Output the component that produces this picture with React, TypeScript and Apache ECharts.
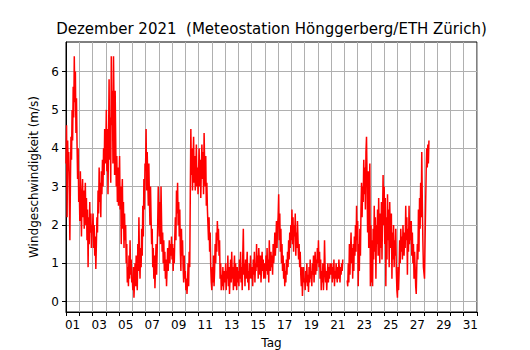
import React, { useEffect, useRef } from "react";
import * as echarts from "echarts";

// Tick labels (days of December)
const dayLabels: string[] = Array.from({ length: 31 }, (_, i) => String(i + 1).padStart(2, "0"));
const yTicks: number[] = [0, 1, 2, 3, 4, 5, 6];

// Hourly wind speed (m/s), one array per day
const day01 = [3.6, 4.6, 2.2, 4.2, 3.4, 3.9, 2.8, 1.6, 3.1, 4.3, 3.7, 5.0, 4.2, 5.6, 4.8, 6.4, 5.2, 6.0, 4.4, 5.3, 4.1, 3.2, 4.0, 2.6];
const day02 = [3.0, 2.1, 3.4, 2.5, 1.7, 2.8, 3.2, 2.2, 2.9, 1.9, 2.6, 3.1, 2.0, 2.7, 1.6, 2.4, 0.9, 2.2, 1.5, 2.6, 1.8, 2.3, 1.4, 2.0];
const day03 = [1.9, 2.3, 1.4, 2.0, 1.2, 1.7, 0.85, 1.5, 2.2, 1.8, 2.9, 2.3, 3.5, 2.6, 3.1, 2.2, 3.4, 2.8, 3.7, 3.0, 4.0, 3.3, 4.5, 3.6];
const day04 = [3.9, 5.0, 3.4, 4.5, 2.8, 4.1, 5.8, 3.7, 4.8, 3.1, 6.4, 4.6, 5.5, 3.6, 6.4, 5.0, 3.3, 5.5, 4.2, 3.0, 3.8, 2.6, 3.5, 2.5];
const day05 = [3.1, 3.8, 2.4, 3.0, 1.5, 2.7, 3.2, 1.9, 2.6, 1.4, 2.3, 1.6, 2.0, 1.0, 1.5, 0.5, 0.9, 0.4, 1.2, 0.6, 1.6, 0.7, 1.1, 0.5];
const day06 = [0.6, 0.3, 0.9, 0.1, 0.5, 1.0, 0.4, 1.2, 0.7, 0.3, 1.5, 0.8, 2.2, 1.1, 0.6, 1.4, 0.9, 1.9, 1.2, 2.5, 1.7, 3.2, 2.4, 3.6];
const day07 = [3.4, 4.5, 2.9, 3.9, 3.2, 2.5, 3.6, 2.7, 2.0, 3.0, 2.2, 1.5, 1.9, 0.9, 1.4, 0.6, 1.2, 0.35, 0.9, 1.5, 0.7, 1.3, 2.0, 3.0];
const day08 = [2.4, 1.7, 2.6, 1.5, 3.0, 2.1, 1.3, 1.8, 1.0, 1.6, 0.8, 1.3, 0.6, 1.1, 0.4, 0.9, 1.4, 0.8, 1.2, 1.6, 1.0, 1.5, 1.2, 1.7];
const day09 = [1.1, 1.5, 0.8, 1.4, 1.0, 1.7, 2.2, 1.6, 2.9, 2.3, 3.1, 2.0, 2.6, 1.7, 2.4, 1.3, 0.8, 1.9, 1.2, 1.6, 0.9, 0.5, 1.2, 0.6];
const day10 = [0.8, 0.3, 0.6, 0.2, 0.5, 1.0, 0.4, 1.3, 0.9, 2.8, 4.5, 3.3, 4.0, 2.9, 3.6, 4.3, 3.1, 3.8, 2.9, 3.4, 4.1, 3.0, 3.5, 2.8];
const day11 = [3.4, 4.0, 3.0, 3.7, 2.7, 3.5, 4.1, 3.2, 3.9, 2.8, 4.4, 3.6, 3.0, 3.8, 2.5, 3.1, 2.4, 2.0, 1.6, 2.2, 1.3, 1.8, 0.9, 0.5];
const day12 = [0.3, 0.9, 0.5, 1.2, 0.4, 0.8, 1.5, 1.0, 1.8, 1.3, 2.1, 1.6, 1.9, 1.2, 1.6, 0.6, 1.0, 0.3, 0.7, 0.4, 0.9, 0.3, 0.6, 0.8];
const day13 = [0.5, 1.0, 0.3, 0.8, 0.6, 1.2, 0.4, 0.9, 0.2, 0.7, 1.1, 0.5, 1.3, 0.6, 0.9, 0.3, 0.8, 1.2, 0.4, 1.0, 0.6, 0.3, 0.9, 0.5];
const day14 = [0.8, 0.4, 1.1, 0.6, 1.3, 0.5, 0.9, 0.3, 1.2, 1.9, 0.7, 1.0, 0.4, 1.1, 0.6, 0.9, 1.3, 0.5, 0.8, 0.3, 1.0, 0.6, 1.2, 0.7];
const day15 = [0.6, 0.9, 0.4, 1.1, 0.7, 1.3, 0.5, 1.0, 0.8, 1.5, 0.9, 1.2, 0.6, 1.4, 1.0, 0.7, 1.2, 0.5, 0.9, 1.3, 0.8, 1.1, 0.6, 1.0];
const day16 = [0.9, 0.6, 1.2, 0.8, 1.4, 0.7, 1.1, 0.5, 1.6, 1.0, 0.8, 1.3, 0.9, 1.2, 0.7, 1.5, 1.0, 1.3, 1.8, 1.2, 1.6, 2.1, 1.4, 2.0];
const day17 = [2.2, 2.8, 1.6, 2.3, 1.3, 1.9, 1.0, 1.5, 0.8, 1.2, 0.6, 1.0, 0.4, 0.8, 0.5, 1.1, 0.7, 1.3, 0.9, 1.6, 1.1, 1.8, 1.4, 2.0];
const day18 = [1.6, 2.4, 1.5, 2.2, 1.3, 2.0, 1.7, 2.3, 1.2, 1.8, 1.4, 2.1, 1.6, 1.1, 1.5, 0.9, 1.3, 0.7, 0.4, 0.9, 0.15, 0.6, 0.9, 0.5];
const day19 = [0.6, 0.3, 0.8, 0.5, 1.0, 0.4, 0.7, 0.25, 0.9, 0.5, 1.1, 0.6, 0.8, 0.4, 1.0, 0.7, 1.2, 0.5, 0.9, 1.3, 0.7, 1.1, 0.8, 1.4];
const day20 = [1.0, 1.6, 0.9, 1.3, 0.6, 1.1, 0.3, 0.8, 0.5, 1.0, 0.3, 0.7, 1.6, 0.9, 0.5, 0.8, 0.3, 0.7, 1.0, 0.5, 0.9, 0.6, 1.0, 0.7];
const day21 = [0.7, 1.0, 0.5, 0.9, 0.6, 1.1, 0.4, 0.8, 0.6, 1.0, 0.7, 0.5, 0.9, 0.6, 1.1, 0.8, 0.5, 0.9, 0.7, 1.0, 0.8, 1.1, null, null];
const day22 = [null, null, null, null, null, 0.55, 0.4, 1.0, 0.5, 1.5, 0.7, 1.3, 1.8, 1.0, 1.4, 0.6, 1.5, 0.8, 1.7, 1.2, 2.0, 1.3, 2.5, 1.6];
const day23 = [2.1, 0.4, 1.5, 0.8, 1.9, 1.2, 2.4, 3.1, 2.2, 3.0, 2.6, 3.7, 2.8, 3.5, 2.4, 3.9, 4.3, 3.2, 1.8, 3.4, 1.4, 2.6, 3.6, 0.4];
const day24 = [2.0, 0.5, 1.6, 0.4, 1.9, 1.1, 2.5, 1.3, 2.2, 0.6, 2.0, 1.5, 2.4, 1.2, 2.7, 1.8, 1.0, 2.3, 1.4, 2.6, 1.1, 2.2, 3.3, 2.0];
const day25 = [3.0, 1.5, 2.7, 0.4, 2.2, 1.1, 2.8, 1.6, 2.4, 0.9, 2.6, 1.8, 1.4, 2.3, 0.6, 1.8, 1.1, 2.0, 0.9, 1.6, 1.2, 1.9, 0.8, 0.3];
const day26 = [0.1, 0.9, 0.3, 0.8, 1.6, 1.0, 1.9, 1.3, 1.7, 1.1, 2.0, 1.5, 1.2, 1.8, 1.4, 2.5, 1.6, 2.2, 0.7, 1.9, 1.3, 2.5, 1.5, 2.1];
const day27 = [1.6, 2.1, 1.2, 1.8, 1.0, 1.5, 0.6, 1.3, 0.9, 0.4, 0.2, 0.9, 1.5, 1.1, 2.4, 1.3, 2.7, 1.9, 3.1, 2.2, 3.9, 2.6, 1.6, 0.9];
const day28 = [0.9, 0.6, 1.6, 2.5, 3.4, 4.0, 3.5, 4.1, 3.6, 4.2];

const days: (number | null)[][] = [
  day01, day02, day03, day04, day05, day06, day07, day08, day09, day10,
  day11, day12, day13, day14, day15, day16, day17, day18, day19, day20,
  day21, day22, day23, day24, day25, day26, day27, day28,
];

export default function App() {
  const ref = useRef<HTMLDivElement>(null);
  useEffect(() => {
    if (!ref.current) return;
    const chart = echarts.init(ref.current, null, { renderer: "svg" });
    const data: (number | null)[][] = [];
    days.forEach((vals, d) => {
      vals.forEach((v, h) => {
        data.push([d + h / 24, v]);
      });
    });
    const font = "DejaVu Sans";
    chart.setOption({
      animation: false,
      backgroundColor: "#ffffff",
      textStyle: { fontFamily: font },
      title: {
        text: "Dezember 2021  (Meteostation Hönggerberg/ETH Zürich)",
        left: 271.5,
        textAlign: "center",
        top: 21,
        padding: 0,
        textStyle: { fontFamily: font, fontSize: 15, fontWeight: "normal", color: "#000" },
      },
      grid: {
        left: 66,
        right: 53,
        top: 42,
        bottom: 38,
        outerBoundsMode: "none",
        containLabel: false,
        show: true,
        borderColor: "#000",
        borderWidth: 1,
        backgroundColor: "transparent",
      },
      xAxis: [
        {
          type: "value",
          min: 0,
          max: 31,
          show: false,
        },
        {
          type: "category",
          data: dayLabels,
          boundaryGap: true,
          position: "bottom",
          name: "Tag",
          nameLocation: "middle",
          nameGap: 25,
          nameTextStyle: { fontFamily: font, fontSize: 12, color: "#000" },
          axisLine: { show: true, lineStyle: { color: "#000", width: 1 } },
          axisTick: { show: true, interval: 0, length: 4, lineStyle: { color: "#000" } },
          axisLabel: { interval: 1, fontFamily: font, fontSize: 12, color: "#000", margin: 7 },
          splitLine: { show: true, interval: 0, lineStyle: { color: "#b0b0b0", width: 1 } },
        },
      ],
      yAxis: {
        type: "value",
        min: -0.27,
        max: 6.77,
        splitNumber: 7,
        name: "Windgeschwindigkeit (m/s)",
        nameLocation: "middle",
        nameGap: 24,
        nameTextStyle: { fontFamily: font, fontSize: 12, color: "#000" },
        axisLine: { show: true, lineStyle: { color: "#000", width: 1 } },
        axisTick: { show: true, length: 4, lineStyle: { color: "#000" }, customValues: yTicks },
        axisLabel: {
          fontFamily: font,
          fontSize: 12,
          color: "#000",
          margin: 7,
          customValues: yTicks,
          formatter: (v: number) => (Number.isInteger(v) ? String(v) : ""),
        },
        splitLine: { show: true, lineStyle: { color: "#b0b0b0", width: 1 } },
      },
      series: [
        {
          type: "line",
          xAxisIndex: 0,
          data,
          showSymbol: false,
          symbol: "none",
          connectNulls: false,
          lineStyle: { color: "#ff0000", width: 1.5 },
          itemStyle: { color: "#ff0000" },
        },
      ],
    });
    return () => chart.dispose();
  }, []);
  return (
    <div
      ref={ref}
      style={{ position: "fixed", left: 0, top: 0, width: 530, height: 350 }}
    />
  );
}
